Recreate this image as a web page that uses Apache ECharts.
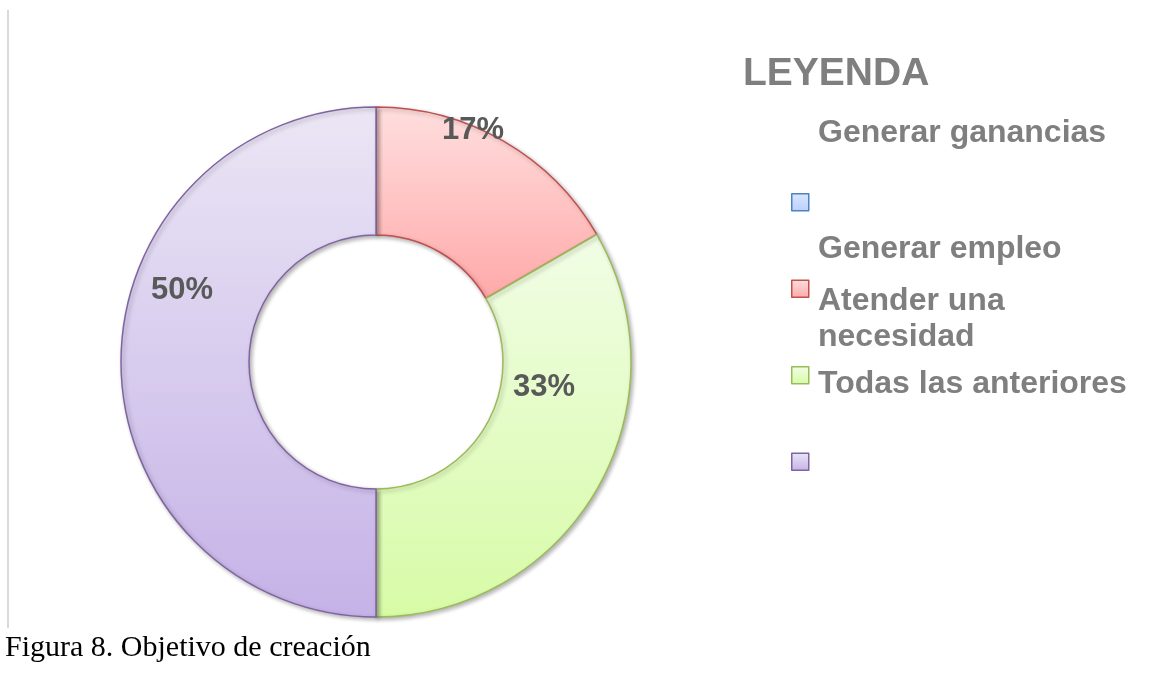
<!DOCTYPE html>
<html>
<head>
<meta charset="utf-8">
<script src="https://cdn.jsdelivr.net/npm/echarts@6/dist/echarts.min.js"></script>
<style>
  html, body { margin: 0; padding: 0; background: #fff; }
  #main { width: 1149px; height: 679px; }
</style>
</head>
<body>
<div id="main"></div>
<script>
// datos
const categories = ['Generar ganancias', 'Generar empleo', 'Atender una necesidad', 'Todas las anteriores'];
const values = [0, 1, 2, 3];
const percentLabels = ['0%', '17%', '33%', '50%'];

// colores estilo Office (borde, degradado arriba, degradado abajo)
const borders = ['#4f81bd', '#c0504d', '#9bbb59', '#8064a2'];
const topColors = ['#dbe6ff', '#ffdede', '#f1fde6', '#ebe6f5'];
const bottomColors = ['#b9d0ff', '#ffa9a9', '#d7fba6', '#c5b2e7'];

const chartDom = document.getElementById('main');
const myChart = echarts.init(chartDom);

const grad = (i) => new echarts.graphic.LinearGradient(0, 0, 0, 1, [
  { offset: 0, color: topColors[i] },
  { offset: 1, color: bottomColors[i] }
]);

const pieData = categories.map((name, i) => ({
  name: name,
  value: values[i],
  label: { formatter: percentLabels[i], show: values[i] > 0 },
  itemStyle: {
    color: grad(i),
    borderColor: borders[i],
    borderWidth: values[i] > 0 ? 1.5 : 0
  }
}));

const legendData = categories.map((name, i) => ({
  name: name,
  icon: 'rect',
  itemStyle: { color: grad(i), borderColor: borders[i], borderWidth: 1.5 }
}));

const textStyle = { fontFamily: 'Liberation Sans, Arial', fontWeight: 'bold', fill: '#7f7f7f' };
const legendText = (txt, x, y, size) => ({
  type: 'text',
  left: x,
  top: y,
  style: Object.assign({ text: txt, fontSize: size, lineHeight: 36 }, textStyle)
});

const option = {
  animation: false,
  legend: {
    orient: 'vertical',
    left: 786,
    top: 188,
    itemWidth: 17,
    itemHeight: 17,
    itemGap: 68,
    selectedMode: false,
    data: legendData,
    formatter: () => '',
    textStyle: { fontSize: 1, lineHeight: 1 }
  },
  graphic: [
    {
      type: 'line',
      shape: { x1: 8, y1: 10, x2: 8, y2: 628 },
      style: { stroke: '#d9d9d9', lineWidth: 2 }
    },
    legendText('LEYENDA', 743, 55, 39),
    legendText('Generar ganancias', 818, 115, 32),
    legendText('Generar empleo', 818, 231, 32),
    legendText('Atender una\nnecesidad', 818, 283, 32),
    legendText('Todas las anteriores', 818, 366, 32),
    {
      type: 'text',
      left: 5,
      top: 633,
      style: { text: 'Figura 8. Objetivo de creación', fontSize: 30, fontFamily: 'Liberation Serif, Times New Roman', fill: '#000' }
    }
  ],
  series: [
    {
      type: 'pie',
      center: [376, 362],
      radius: [127, 255],
      startAngle: 90,
      clockwise: true,
      avoidLabelOverlap: false,
      label: {
        position: 'inside',
        fontSize: 31,
        fontWeight: 'bold',
        fontFamily: 'Liberation Sans, Arial',
        color: '#595959'
      },
      labelLine: { show: false },
      labelLayout: (params) => ({ dy: params.dataIndex === 1 ? -64 : -72 }),
      emphasis: { disabled: true },
      itemStyle: {
        shadowBlur: 4,
        shadowOffsetX: 2,
        shadowOffsetY: 2,
        shadowColor: 'rgba(0,0,0,0.3)'
      },
      data: pieData
    }
  ]
};

option && myChart.setOption(option);
</script>
</body>
</html>
